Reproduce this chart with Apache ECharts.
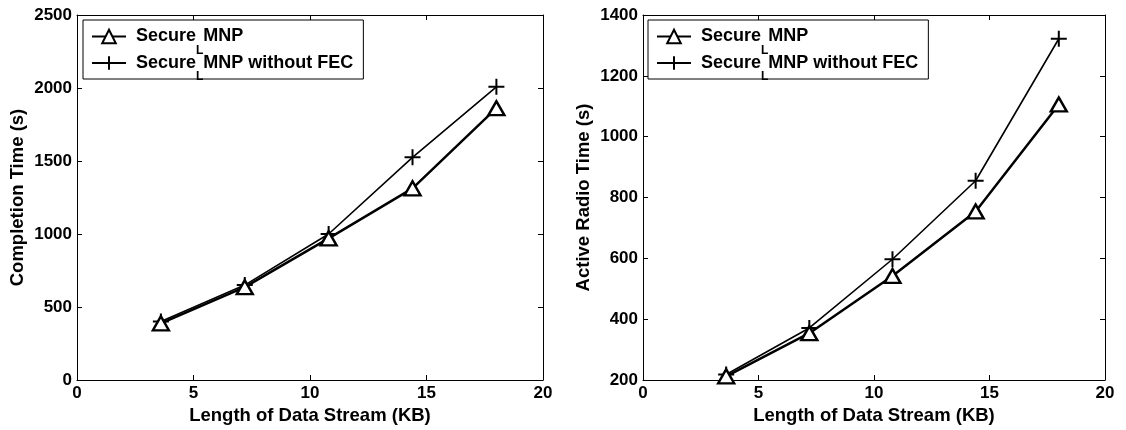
<!DOCTYPE html>
<html>
<head>
<meta charset="utf-8">
<script src="https://cdn.jsdelivr.net/npm/echarts@6/dist/echarts.min.js"></script>
<style>
  html, body { margin: 0; padding: 0; background: #fff; }
  #chart { width: 1126px; height: 430px; }
</style>
</head>
<body>
<div id="chart"></div>
<script>
// Length of the disseminated data stream (KB)
const lengthKB = [3.6, 7.2, 10.8, 14.4, 18.0];

// Completion time (s)
const completionSecure = [388, 636, 970, 1313, 1862];
const completionNoFec = [400, 650, 1000, 1525, 2008];

// Active radio time (s)
const radioSecure = [212, 354, 542, 754, 1106];
const radioNoFec = [218, 371, 597, 855, 1322];

const seriesNames = ['Secure_L MNP', 'Secure_L MNP without FEC'];

const FONT = '"Liberation Sans", Arial, Helvetica, sans-serif';
const BLACK = '#000';

function pairs(xs, ys) {
  return xs.map((x, i) => [x, ys[i]]);
}

// "Secure_L MNP" -> Secure with a subscript L, followed by the rest of the name
function legendLabel(name) {
  const rest = name.split('_L ')[1];
  return '{sp| }{n|Secure}{s|L}{n|' + rest + '}';
}

const legendRich = {
  sp: { width: 5, fontSize: 5, lineHeight: 40 },
  n: { fontFamily: FONT, fontWeight: 'bold', fontSize: 18, color: BLACK, lineHeight: 40, verticalAlign: 'middle' },
  s: { fontFamily: FONT, fontWeight: 'bold', fontSize: 12, color: BLACK, lineHeight: 12, verticalAlign: 'bottom' }
};

function makeLegend(left) {
  return {
    orient: 'vertical',
    left: left,
    top: 20,
    itemWidth: 34,
    itemHeight: 17,
    itemGap: -2.5,
    padding: [7.5, 10, -4, 8],
    borderColor: BLACK,
    borderWidth: 1,
    backgroundColor: '#fff',
    selectedMode: false,
    data: seriesNames,
    formatter: legendLabel,
    textStyle: { rich: legendRich }
  };
}

const labelStyle = { fontFamily: FONT, fontWeight: 'bold', fontSize: 17, color: BLACK };
const nameStyle = { fontFamily: FONT, fontWeight: 'bold', fontSize: 18.5, color: BLACK };
const lineStyleAxis = { color: BLACK, width: 1 };
const plainNumber = (v) => String(v);

function xAxes(gridIndex) {
  const base = {
    type: 'value', gridIndex: gridIndex, min: 0, max: 20, interval: 5,
    axisLine: { show: true, onZero: false, lineStyle: lineStyleAxis },
    axisTick: { show: true, inside: true, length: 5, lineStyle: lineStyleAxis },
    splitLine: { show: false }
  };
  return [
    Object.assign({}, base, {
      position: 'bottom',
      axisLabel: Object.assign({ margin: 5, formatter: plainNumber }, labelStyle),
      name: 'Length of Data Stream (KB)',
      nameLocation: 'middle',
      nameGap: 14,
      nameTextStyle: nameStyle
    }),
    Object.assign({}, base, { position: 'top', axisLabel: { show: false } })
  ];
}

function yAxes(gridIndex, min, max, step, title) {
  const base = {
    type: 'value', gridIndex: gridIndex, min: min, max: max, interval: step,
    axisLine: { show: true, onZero: false, lineStyle: lineStyleAxis },
    axisTick: { show: true, inside: true, length: 5, lineStyle: lineStyleAxis },
    splitLine: { show: false }
  };
  return [
    Object.assign({}, base, {
      position: 'left',
      axisLabel: Object.assign({ margin: 5, formatter: plainNumber }, labelStyle),
      name: title,
      nameLocation: 'middle',
      nameGap: 50,
      nameTextStyle: nameStyle
    }),
    Object.assign({}, base, { position: 'right', axisLabel: { show: false } })
  ];
}

function triangleSeries(axisIndex, values) {
  return {
    name: seriesNames[0], type: 'line',
    xAxisIndex: axisIndex, yAxisIndex: axisIndex,
    data: pairs(lengthKB, values),
    symbol: 'triangle', symbolSize: [16, 14],
    lineStyle: { color: BLACK, width: 2.5 },
    itemStyle: { color: '#fff', borderColor: BLACK, borderWidth: 2.4 },
    emphasis: { disabled: true },
    z: 3
  };
}

function plusSeries(axisIndex, values) {
  return {
    name: seriesNames[1], type: 'line',
    xAxisIndex: axisIndex, yAxisIndex: axisIndex,
    data: pairs(lengthKB, values),
    symbol: 'path://M0,5L10,5M5,0L5,10', symbolSize: 16,
    lineStyle: { color: BLACK, width: 1.6 },
    itemStyle: { color: BLACK, borderColor: BLACK, borderWidth: 2 },
    emphasis: { disabled: true },
    z: 2
  };
}

const chart = echarts.init(document.getElementById('chart'), null, { renderer: 'canvas' });

chart.setOption({
  animation: false,
  backgroundColor: '#fff',
  grid: [
    { left: 77, top: 15, width: 466, height: 365, outerBoundsMode: 'none' },
    { left: 643, top: 15, width: 462, height: 365, outerBoundsMode: 'none' }
  ],
  legend: [makeLegend(83), makeLegend(648)],
  xAxis: xAxes(0).concat(xAxes(1)),
  yAxis: yAxes(0, 0, 2500, 500, 'Completion Time (s)')
    .concat(yAxes(1, 200, 1400, 200, 'Active Radio Time (s)')),
  series: [
    triangleSeries(0, completionSecure),
    plusSeries(0, completionNoFec),
    triangleSeries(2, radioSecure),
    plusSeries(2, radioNoFec)
  ]
});
</script>
</body>
</html>
